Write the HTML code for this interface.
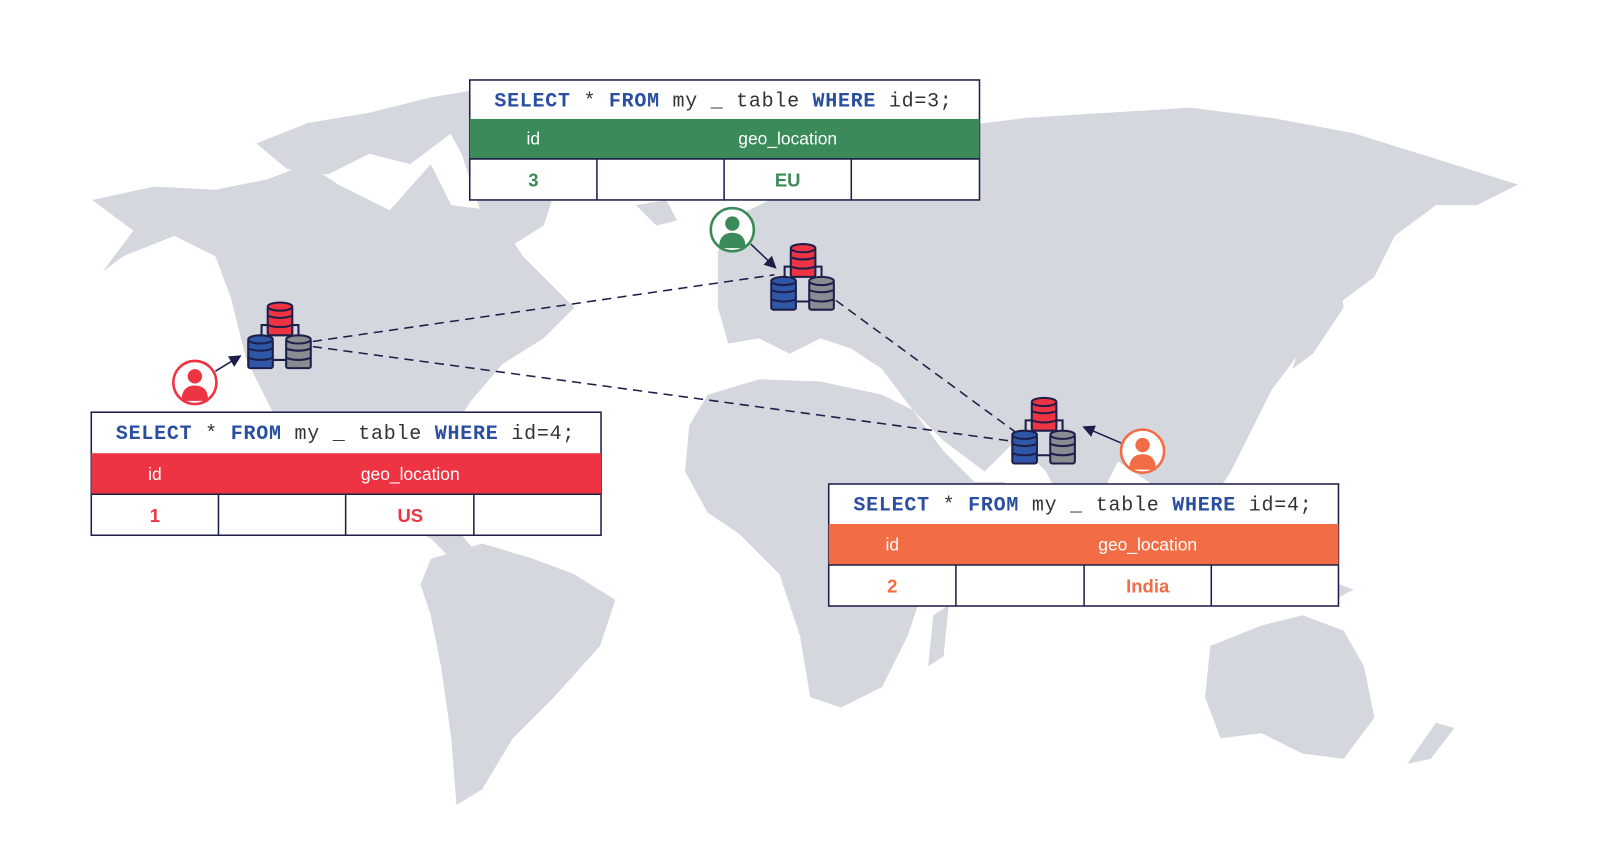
<!DOCTYPE html>
<html><head><meta charset="utf-8"><style>
html,body{margin:0;padding:0;background:#fff;width:1600px;height:848px;overflow:hidden}
svg{display:block}
.q{font-family:"Liberation Mono",monospace;font-size:19.5px;fill:#333}
.k{fill:#2a4ea0;font-weight:bold}
.h{font-family:"Liberation Sans",sans-serif;font-size:17px;fill:#fff;text-anchor:middle}
.v{font-family:"Liberation Sans",sans-serif;font-size:18px;font-weight:bold;text-anchor:middle}
</style></head><body>
<svg width="1600" height="848" viewBox="0 0 1560 827" preserveAspectRatio="none" xmlns="http://www.w3.org/2000/svg">
<g fill="#d4d7dd">
<path d="M90,195 L150,182 L210,185 L260,175 L300,160 L330,180 L380,205 L420,160 L440,200 L480,205 L510,250 L560,300 L530,330 L490,355 L460,390 L440,420 L420,445 L410,470 L440,510 L470,545 L450,555 L420,525 L380,505 L340,480 L300,450 L265,400 L240,350 L225,290 L210,250 L170,230 L120,250 L100,265 L130,225 Z"/>
<path d="M250,140 L300,120 L360,110 L420,95 L440,130 L400,160 L360,150 L320,170 L280,165 Z"/>
<path d="M420,95 L480,85 L560,82 L580,110 L550,160 L530,220 L490,245 L470,210 L450,150 Z"/>
<path d="M420,545 L470,530 L520,545 L560,560 L600,585 L585,630 L540,680 L500,720 L470,770 L445,785 L440,720 L430,650 L420,600 L410,570 Z"/>
<path d="M700,245 L720,210 L760,190 L800,165 L850,140 L920,125 L1000,115 L1080,110 L1160,105 L1240,115 L1320,130 L1400,155 L1480,180 L1440,200 L1400,200 L1360,230 L1340,270 L1300,300 L1270,340 L1240,380 L1220,420 L1200,460 L1180,490 L1160,530 L1140,500 L1120,470 L1090,450 L1060,510 L1040,500 L1020,460 L990,430 L960,460 L920,430 L890,400 L860,360 L830,340 L800,330 L770,345 L740,330 L710,335 L700,300 Z"/>
<path d="M620,200 L650,195 L660,215 L640,220 Z M760,160 L810,140 L830,180 L800,230 L775,210 Z"/>
<path d="M690,385 L740,370 L800,372 L860,385 L890,400 L920,440 L950,470 L980,470 L950,520 L905,560 L885,620 L860,670 L820,690 L790,680 L780,620 L760,560 L720,520 L690,500 L668,460 L672,415 Z"/>
<path d="M910,600 L925,590 L920,640 L905,650 Z"/>
<path d="M1160,550 L1220,545 L1280,560 L1320,575 L1290,590 L1220,580 L1170,570 Z"/>
<path d="M1290,300 L1305,260 L1310,300 L1280,345 L1260,360 L1270,330 Z"/>
<path d="M1180,630 L1230,610 L1270,600 L1310,615 L1330,650 L1340,700 L1310,740 L1270,735 L1230,715 L1190,720 L1175,680 Z"/>
<path d="M1400,705 L1418,710 L1395,740 L1372,745 Z"/>
</g>
<g stroke="#1e1e4a" stroke-width="1.5" stroke-dasharray="9,6" fill="none">
<line x1="305" y1="333" x2="755" y2="268"/>
<line x1="305" y1="338" x2="985" y2="430"/>
<line x1="815" y1="293" x2="995" y2="425"/>
</g>
<defs><marker id="ah" markerWidth="8" markerHeight="8" refX="6" refY="4" orient="auto"><path d="M0,0 L8,4 L0,8 Z" fill="#1e1e4a"/></marker>
<g id="cyl"><rect x="-12" y="-14" width="24" height="28" rx="2" fill="currentColor" stroke="#1e1e4a" stroke-width="2"/><ellipse cx="0" cy="-14" rx="12" ry="4" fill="currentColor" stroke="#1e1e4a" stroke-width="2"/><path d="M-12,-5 Q0,-1 12,-5 M-12,4 Q0,8 12,4" stroke="#1e1e4a" stroke-width="2" fill="none"/></g>
<g id="cluster"><path d="M-18,6 V-12 H-10 M10,-12 H18 V6 M-6,22 H6" stroke="#1e1e4a" stroke-width="2" fill="none"/><use href="#cyl" x="0" y="-16" style="color:#ee3442"/><use href="#cyl" x="-19" y="16" style="color:#2e57a8"/><use href="#cyl" x="18" y="16" style="color:#8a8c92"/></g>
<g id="user"><circle r="21" fill="#fff" stroke="currentColor" stroke-width="2.5"/><circle cy="-6" r="7" fill="currentColor"/><path d="M-13,18 Q-13,3 0,3 Q13,3 13,18 Z" fill="currentColor"/></g></defs>
<g stroke="#1e1e4a" stroke-width="1.5" marker-end="url(#ah)">
<line x1="210" y1="362" x2="233" y2="348"/>
<line x1="732" y1="238" x2="755" y2="260"/>
<line x1="1093" y1="432" x2="1058" y2="417"/>
</g>
<use href="#cluster" x="273" y="329"/>
<use href="#cluster" x="783" y="272"/>
<use href="#cluster" x="1018" y="422"/>
<use href="#user" x="190" y="373" style="color:#ee3442"/>
<use href="#user" x="714" y="224" style="color:#3a8a5a"/>
<use href="#user" x="1114" y="440" style="color:#f26d45"/>

<g>
<rect x="458" y="78" width="497" height="117" fill="#fff" stroke="#1e1e4a" stroke-width="1.5"/>
<text class="q" x="482" y="104" textLength="446" lengthAdjust="spacing"><tspan class="k">SELECT</tspan> * <tspan class="k">FROM</tspan> my _ table <tspan class="k">WHERE</tspan> id=3;</text>
<rect x="458" y="116" width="497" height="39" fill="#3a8a5a"/>
<text class="h" x="520" y="141">id</text><text class="h" x="768" y="141">geo_location</text>
<path d="M458,155 H955 M582,155 V195 M706,155 V195 M830,155 V195" stroke="#1e1e4a" stroke-width="1.5"/>
<text class="v" x="520" y="182" fill="#3a8a5a">3</text><text class="v" x="768" y="182" fill="#3a8a5a">EU</text>
</g>
<g>
<rect x="89" y="402" width="497" height="120" fill="#fff" stroke="#1e1e4a" stroke-width="1.5"/>
<text class="q" x="113" y="428" textLength="447" lengthAdjust="spacing"><tspan class="k">SELECT</tspan> * <tspan class="k">FROM</tspan> my _ table <tspan class="k">WHERE</tspan> id=4;</text>
<rect x="89" y="442" width="497" height="40" fill="#ee3442"/>
<text class="h" x="151" y="468">id</text><text class="h" x="400" y="468">geo_location</text>
<path d="M89,482 H586 M213,482 V522 M337,482 V522 M462,482 V522" stroke="#1e1e4a" stroke-width="1.5"/>
<text class="v" x="151" y="509" fill="#ee3442">1</text><text class="v" x="400" y="509" fill="#ee3442">US</text>
</g>
<g>
<rect x="808" y="472" width="497" height="119" fill="#fff" stroke="#1e1e4a" stroke-width="1.5"/>
<text class="q" x="832" y="498" textLength="447" lengthAdjust="spacing"><tspan class="k">SELECT</tspan> * <tspan class="k">FROM</tspan> my _ table <tspan class="k">WHERE</tspan> id=4;</text>
<rect x="808" y="511" width="497" height="40" fill="#f26d45"/>
<text class="h" x="870" y="537">id</text><text class="h" x="1119" y="537">geo_location</text>
<path d="M808,551 H1305 M932,551 V591 M1057,551 V591 M1181,551 V591" stroke="#1e1e4a" stroke-width="1.5"/>
<text class="v" x="870" y="578" fill="#f26d45">2</text><text class="v" x="1119" y="578" fill="#f26d45">India</text>
</g>
</svg>
</body></html>
